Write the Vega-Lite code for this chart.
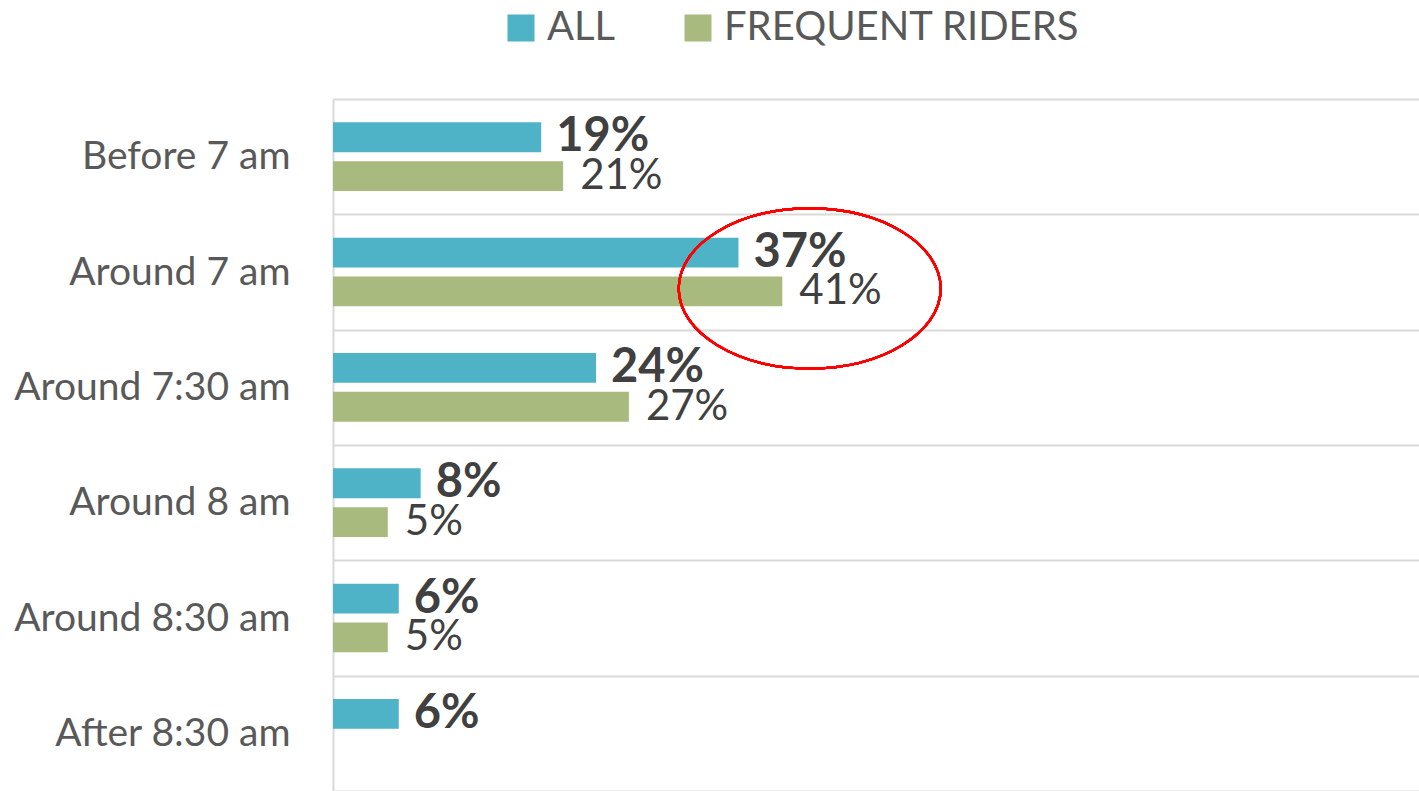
{
  "$schema": "https://vega.github.io/schema/vega-lite/v6.json",
  "width": 1086,
  "height": 692,
  "autosize": {"type": "none"},
  "padding": {"left": 333, "top": 99, "right": 0, "bottom": 0},
  "background": "white",
  "config": {"view": {"stroke": null}, "font": "Lato"},
  "data": {
    "values": [
      {"time": "Before 7 am", "group": "ALL", "value": 0.19},
      {"time": "Before 7 am", "group": "FREQUENT RIDERS", "value": 0.21},
      {"time": "Around 7 am", "group": "ALL", "value": 0.37},
      {"time": "Around 7 am", "group": "FREQUENT RIDERS", "value": 0.41},
      {"time": "Around 7:30 am", "group": "ALL", "value": 0.24},
      {"time": "Around 7:30 am", "group": "FREQUENT RIDERS", "value": 0.27},
      {"time": "Around 8 am", "group": "ALL", "value": 0.08},
      {"time": "Around 8 am", "group": "FREQUENT RIDERS", "value": 0.05},
      {"time": "Around 8:30 am", "group": "ALL", "value": 0.06},
      {"time": "Around 8:30 am", "group": "FREQUENT RIDERS", "value": 0.05},
      {"time": "After 8:30 am", "group": "ALL", "value": 0.06}
    ]
  },
  "encoding": {
    "y": {
      "field": "time",
      "type": "nominal",
      "sort": ["Before 7 am", "Around 7 am", "Around 7:30 am", "Around 8 am", "Around 8:30 am", "After 8:30 am"],
      "scale": {"paddingInner": 0, "paddingOuter": 0},
      "axis": {
        "title": null,
        "domain": true,
        "domainColor": "#d9d9d9",
        "domainWidth": 2,
        "ticks": false,
        "tickSize": 0,
        "grid": true,
        "gridColor": "#d9d9d9",
        "gridWidth": 2,
        "tickBand": "extent",
        "labelFont": "Lato",
        "labelFontSize": 39,
        "labelColor": "#595959",
        "labelPadding": 43,
        "labelLimit": 600
      }
    },
    "x": {
      "field": "value",
      "type": "quantitative",
      "scale": {"domain": [0, 0.991]},
      "axis": null
    }
  },
  "layer": [
    {
      "mark": {"type": "bar"},
      "encoding": {
        "yOffset": {
          "field": "group",
          "scale": {"domain": ["ALL", "FREQUENT RIDERS"], "paddingInner": 0.2308, "paddingOuter": 0.6026}
        },
        "color": {
          "field": "group",
          "type": "nominal",
          "scale": {"domain": ["ALL", "FREQUENT RIDERS"], "range": ["#4FB3C8", "#A8BA7E"]},
          "legend": {
            "title": null,
            "orient": "none",
            "legendX": 168,
            "legendY": -91,
            "direction": "horizontal",
            "padding": 0,
            "symbolType": "square",
            "symbolSize": 729,
            "symbolStrokeWidth": 0,
            "labelFont": "Lato",
            "labelFontSize": 40,
            "labelColor": "#595959",
            "labelOffset": 6,
            "labelLimit": 800,
            "columnPadding": 62
          }
        }
      }
    },
    {
      "transform": [{"filter": "datum.group === 'ALL'"}],
      "mark": {"type": "text", "align": "left", "baseline": "middle", "dx": 15, "fontSize": 47, "fontWeight": "bold", "color": "#404040", "font": "Lato"},
      "encoding": {
        "yOffset": {
          "field": "group",
          "scale": {"domain": ["ALL", "FREQUENT RIDERS"], "paddingInner": 0.2308, "paddingOuter": 0.6026}
        },
        "text": {"field": "value", "type": "quantitative", "format": ".0%"}
      }
    },
    {
      "transform": [{"filter": "datum.group === 'FREQUENT RIDERS'"}],
      "mark": {"type": "text", "align": "left", "baseline": "middle", "dx": 17, "fontSize": 42, "fontWeight": "normal", "color": "#404040", "font": "Lato"},
      "encoding": {
        "yOffset": {
          "field": "group",
          "scale": {"domain": ["ALL", "FREQUENT RIDERS"], "paddingInner": 0.2308, "paddingOuter": 0.6026}
        },
        "text": {"field": "value", "type": "quantitative", "format": ".0%"}
      }
    },
    {
      "mark": {
        "type": "point",
        "shape": "M-1,0.126A1,0.611,0,1,1,1,0.126A1,0.611,0,1,1,-1,0.126Z",
        "filled": false,
        "stroke": "#FF0000",
        "strokeWidth": 2.2,
        "size": 68644,
        "opacity": 1
      },
      "encoding": {
        "x": {"datum": 0.435, "type": "quantitative"},
        "y": {"datum": "Around 7 am", "type": "nominal"}
      }
    }
  ]
}
